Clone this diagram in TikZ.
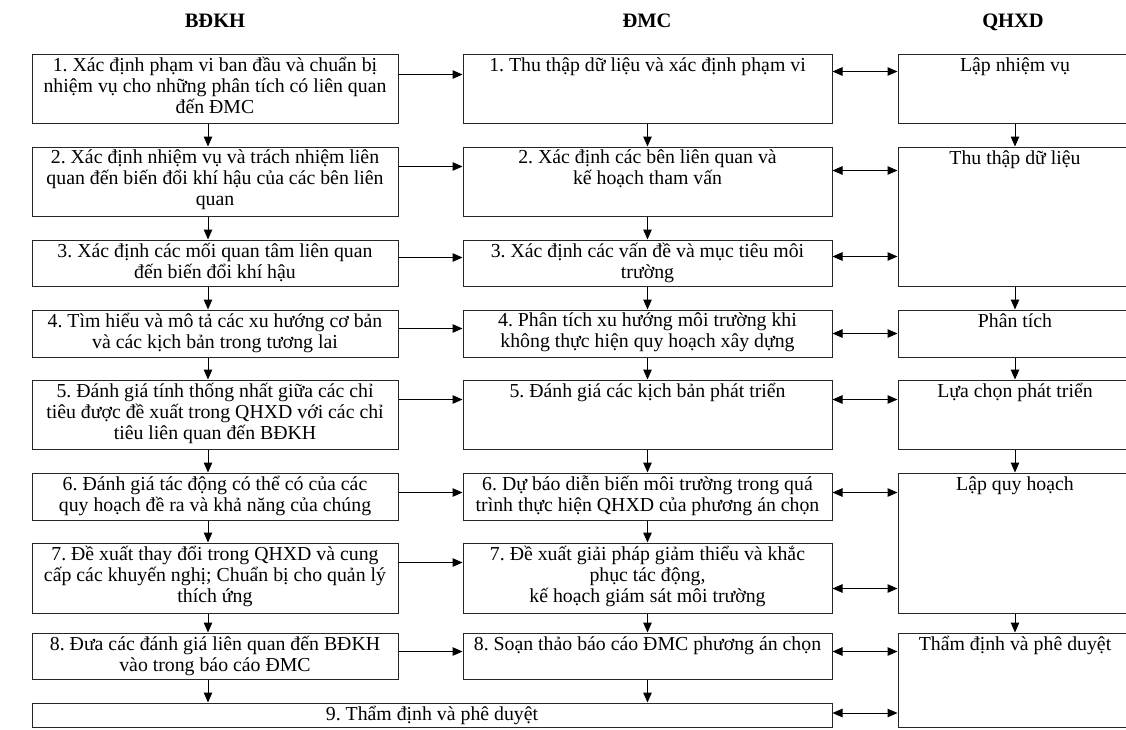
\documentclass[tikz,border=0pt]{standalone}
\usepackage{fontspec}
\setmainfont{Liberation Serif}
\usetikzlibrary{arrows.meta,positioning}

\tikzset{
  box/.style={draw=black!85,line width=1pt,inner sep=0pt},
  txt/.style={font=\fontsize{19.8}{21}\selectfont\frenchspacing,align=center,anchor=north,
    inner sep=0pt,execute at begin node=\strut},
  head/.style={font=\fontsize{20.5}{22}\selectfont\bfseries,anchor=base},
  arr/.style={line width=1pt,-{Triangle[length=10pt,width=8.5pt]}},
  dbl/.style={line width=1pt,{Triangle[length=10pt,width=8.5pt]}-{Triangle[length=10pt,width=8.5pt]}}
}

\begin{document}
\begin{tikzpicture}[x=1pt,y=-1pt]
        \clip (0,0) rectangle (1126,729);
        \fill[white] (0,0) rectangle (1126,729);

        % column headers
        \node[head] (hA) at (215,27) {BĐKH};
        \node[head] (hB) at (647,27) {ĐMC};
        \node[head] (hC) at (1013,27) {QHXD};

        % BDKH column
        \node[box,minimum width=366pt,minimum height=69pt] (a1) at (215,88.5) {};
        \node[txt] at ([yshift=-3.3pt]a1.north) {1. Xác định phạm vi ban đầu và chuẩn bị\\nhiệm vụ cho những phân tích có liên quan\\đến ĐMC};
        \node[box,minimum width=366pt,minimum height=69pt] (a2) at (215,181.5) {};
        \node[txt] at ([yshift=-3.3pt]a2.north) {2. Xác định nhiệm vụ và trách nhiệm liên\\quan đến biến đổi khí hậu của các bên liên\\quan};
        \node[box,minimum width=366pt,minimum height=46pt] (a3) at (215,263) {};
        \node[txt] at ([yshift=-3.3pt]a3.north) {3. Xác định các mối quan tâm liên quan\\đến biến đổi khí hậu};
        \node[box,minimum width=366pt,minimum height=47pt] (a4) at (215,333.5) {};
        \node[txt] at ([yshift=-3.3pt]a4.north) {4. Tìm hiểu và mô tả các xu hướng cơ bản\\và các kịch bản trong tương lai};
        \node[box,minimum width=366pt,minimum height=69pt] (a5) at (215,414.5) {};
        \node[txt] at ([yshift=-3.3pt]a5.north) {5. Đánh giá tính thống nhất giữa các chỉ\\tiêu được đề xuất trong QHXD với các chỉ\\tiêu liên quan đến BĐKH};
        \node[box,minimum width=366pt,minimum height=47pt] (a6) at (215,496.5) {};
        \node[txt] at ([yshift=-3.3pt]a6.north) {6. Đánh giá tác động có thể có của các\\quy hoạch đề ra và khả năng của chúng};
        \node[box,minimum width=366pt,minimum height=70pt] (a7) at (215,578) {};
        \node[txt] at ([yshift=-3.3pt]a7.north) {7. Đề xuất thay đổi trong QHXD và cung\\cấp các khuyến nghị; Chuẩn bị cho quản lý\\thích ứng};
        \node[box,minimum width=366pt,minimum height=46pt] (a8) at (215,656) {};
        \node[txt] at ([yshift=-3.3pt]a8.north) {8. Đưa các đánh giá liên quan đến BĐKH\\vào trong báo cáo ĐMC};

        % DMC column
        \node[box,minimum width=369pt,minimum height=69pt] (b1) at (647.5,88.5) {};
        \node[txt] at ([yshift=-3.3pt]b1.north) {1. Thu thập dữ liệu và xác định phạm vi};
        \node[box,minimum width=369pt,minimum height=69pt] (b2) at (647.5,181.5) {};
        \node[txt] at ([yshift=-3.3pt]b2.north) {2. Xác định các bên liên quan và\\kế hoạch tham vấn};
        \node[box,minimum width=369pt,minimum height=46pt] (b3) at (647.5,263) {};
        \node[txt] at ([yshift=-3.3pt]b3.north) {3. Xác định các vấn đề và mục tiêu môi\\trường};
        \node[box,minimum width=369pt,minimum height=47pt] (b4) at (647.5,333.5) {};
        \node[txt] at ([yshift=-3.3pt]b4.north) {4. Phân tích xu hướng môi trường khi\\không thực hiện quy hoạch xây dựng};
        \node[box,minimum width=369pt,minimum height=69pt] (b5) at (647.5,414.5) {};
        \node[txt] at ([yshift=-3.3pt]b5.north) {5. Đánh giá các kịch bản phát triển};
        \node[box,minimum width=369pt,minimum height=47pt] (b6) at (647.5,496.5) {};
        \node[txt] at ([yshift=-3.3pt]b6.north) {6. Dự báo diễn biến môi trường trong quá\\trình thực hiện QHXD của phương án chọn};
        \node[box,minimum width=369pt,minimum height=70pt] (b7) at (647.5,578) {};
        \node[txt] at ([yshift=-3.3pt]b7.north) {7. Đề xuất giải pháp giảm thiểu và khắc\\phục tác động,\\kế hoạch giám sát môi trường};
        \node[box,minimum width=369pt,minimum height=46pt] (b8) at (647.5,656) {};
        \node[txt] at ([yshift=-3.3pt]b8.north) {8. Soạn thảo báo cáo ĐMC phương án chọn};

        % shared last step
        \node[box,minimum width=800pt,minimum height=24pt] (ab9) at (432,715) {};
        \node[txt] at ([yshift=-3.3pt]ab9.north) {9. Thẩm định và phê duyệt};

        % QHXD column
        \node[box,minimum width=234pt,minimum height=69pt] (q1) at (1015,88.5) {};
        \node[txt] at ([yshift=-3.3pt]q1.north) {Lập nhiệm vụ};
        \node[box,minimum width=234pt,minimum height=139pt] (q2) at (1015,216.5) {};
        \node[txt] at ([yshift=-3.3pt]q2.north) {Thu thập dữ liệu};
        \node[box,minimum width=234pt,minimum height=47pt] (q3) at (1015,333.5) {};
        \node[txt] at ([yshift=-3.3pt]q3.north) {Phân tích};
        \node[box,minimum width=234pt,minimum height=69pt] (q4) at (1015,414.5) {};
        \node[txt] at ([yshift=-3.3pt]q4.north) {Lựa chọn phát triển};
        \node[box,minimum width=234pt,minimum height=140pt] (q5) at (1015,543) {};
        \node[txt] at ([yshift=-3.3pt]q5.north) {Lập quy hoạch};
        \node[box,minimum width=234pt,minimum height=94pt] (q6) at (1015,680) {};
        \node[txt] at ([yshift=-3.3pt]q6.north) {Thẩm định và phê duyệt};

        % vertical flow
        \draw[arr] ([xshift=-7pt]a1.south) -- ([xshift=-7pt]a2.north);
        \draw[arr] ([xshift=-7pt]a2.south) -- ([xshift=-7pt]a3.north);
        \draw[arr] ([xshift=-7pt]a3.south) -- ([xshift=-7pt]a4.north);
        \draw[arr] ([xshift=-7pt]a4.south) -- ([xshift=-7pt]a5.north);
        \draw[arr] ([xshift=-7pt]a5.south) -- ([xshift=-7pt]a6.north);
        \draw[arr] ([xshift=-7pt]a6.south) -- ([xshift=-7pt]a7.north);
        \draw[arr] ([xshift=-7pt]a7.south) -- ([xshift=-7pt]a8.north);
        \draw[arr] ([xshift=-7pt]a8.south) -- ([xshift=-7pt]a8.south |- ab9.north);

        \draw[arr] (b1) -- (b2);
        \draw[arr] (b2) -- (b3);
        \draw[arr] (b3) -- (b4);
        \draw[arr] (b4) -- (b5);
        \draw[arr] (b5) -- (b6);
        \draw[arr] (b6) -- (b7);
        \draw[arr] (b7) -- (b8);
        \draw[arr] (b8.south) -- (b8.south |- ab9.north);

        \draw[arr] (q1) -- (q2);
        \draw[arr] (q2) -- (q3);
        \draw[arr] (q3) -- (q4);
        \draw[arr] (q4) -- (q5);
        \draw[arr] (q5) -- (q6);

        % BDKH -> DMC
        \draw[arr] ([yshift=-21pt]a1.north east) -- ([yshift=-21pt]b1.north west);
        \draw[arr] ([yshift=-20pt]a2.north east) -- ([yshift=-20pt]b2.north west);
        \draw[arr] ([yshift=-18pt]a3.north east) -- ([yshift=-18pt]b3.north west);
        \draw[arr] ([yshift=-19pt]a4.north east) -- ([yshift=-19pt]b4.north west);
        \draw[arr] ([yshift=-20pt]a5.north east) -- ([yshift=-20pt]b5.north west);
        \draw[arr] ([yshift=-20pt]a6.north east) -- ([yshift=-20pt]b6.north west);
        \draw[arr] ([yshift=-20pt]a7.north east) -- ([yshift=-20pt]b7.north west);
        \draw[arr] ([yshift=-19pt]a8.north east) -- ([yshift=-19pt]b8.north west);

        % DMC <-> QHXD
        \draw[dbl] ([yshift=-18pt]b1.north east) -- ([yshift=-18pt]b1.north east -| q1.west);
        \draw[dbl] ([yshift=-24pt]b2.north east) -- ([yshift=-24pt]b2.north east -| q2.west);
        \draw[dbl] ([yshift=-17pt]b3.north east) -- ([yshift=-17pt]b3.north east -| q2.west);
        \draw[dbl] ([yshift=-24pt]b4.north east) -- ([yshift=-24pt]b4.north east -| q3.west);
        \draw[dbl] ([yshift=-20pt]b5.north east) -- ([yshift=-20pt]b5.north east -| q4.west);
        \draw[dbl] ([yshift=-20pt]b6.north east) -- ([yshift=-20pt]b6.north east -| q5.west);
        \draw[dbl] ([yshift=-46pt]b7.north east) -- ([yshift=-46pt]b7.north east -| q5.west);
        \draw[dbl] ([yshift=-19pt]b8.north east) -- ([yshift=-19pt]b8.north east -| q6.west);
        \draw[dbl] ([yshift=2pt]ab9.east) -- ([yshift=2pt]ab9.east -| q6.west);
\end{tikzpicture}
\end{document}
